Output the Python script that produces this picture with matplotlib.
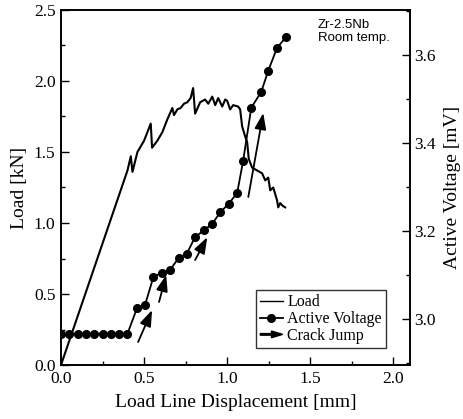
import matplotlib
matplotlib.use("Agg")
import matplotlib.pyplot as plt
from matplotlib.lines import Line2D
from matplotlib.patches import FancyArrow
from matplotlib.legend_handler import HandlerPatch
from matplotlib.ticker import MultipleLocator

# ---- data ----
load_x = [0.0, 0.40, 0.42, 0.43, 0.46, 0.50, 0.54, 0.548, 0.58, 0.61, 0.64, 0.67, 0.68,
          0.70, 0.72, 0.74, 0.76, 0.78, 0.795, 0.807, 0.837, 0.867, 0.886, 0.91, 0.928,
          0.946, 0.97, 0.988, 1.00, 1.018, 1.036, 1.066, 1.078, 1.09, 1.108, 1.12, 1.13,
          1.15, 1.18, 1.21, 1.229, 1.247, 1.259, 1.277, 1.30, 1.307, 1.319, 1.335, 1.349]
load_y = [0.0, 1.37, 1.47, 1.36, 1.50, 1.58, 1.70, 1.53, 1.58, 1.64, 1.73, 1.81, 1.76,
          1.80, 1.81, 1.84, 1.85, 1.88, 1.95, 1.77, 1.85, 1.87, 1.84, 1.89, 1.83,
          1.88, 1.82, 1.87, 1.86, 1.80, 1.83, 1.82, 1.80, 1.68, 1.61, 1.57, 1.45,
          1.39, 1.37, 1.35, 1.30, 1.32, 1.23, 1.25, 1.16, 1.11, 1.14, 1.12, 1.11]

volt_x = [0.0, 0.05, 0.10, 0.15, 0.20, 0.25, 0.30, 0.35, 0.40, 0.458, 0.506, 0.556,
          0.606, 0.655, 0.71, 0.757, 0.807, 0.86, 0.91, 0.958, 1.01, 1.06, 1.096,
          1.145, 1.205, 1.247, 1.30, 1.355]
volt_y = [2.966, 2.966, 2.966, 2.966, 2.966, 2.966, 2.966, 2.966, 2.966, 3.025, 3.032,
          3.095, 3.105, 3.111, 3.139, 3.148, 3.186, 3.201, 3.216, 3.242, 3.262, 3.286,
          3.359, 3.48, 3.516, 3.564, 3.616, 3.641]

jump_tail_x = [0.464, 0.59, 0.807, 1.127]
jump_tail_y = [0.162, 0.444, 0.739, 1.183]
jump_head_x = [0.548, 0.633, 0.88, 1.217]
jump_head_y = [0.387, 0.634, 0.90, 1.775]

xticks = [0.0, 0.5, 1.0, 1.5, 2.0]
yticks_left = [0.0, 0.5, 1.0, 1.5, 2.0, 2.5]
yticks_right = [3.0, 3.2, 3.4, 3.6]

serif = ["Liberation Serif", "DejaVu Serif"]
plt.rcParams["font.family"] = serif

fig = plt.figure(figsize=(4.63, 4.19), dpi=100)
ax = fig.add_axes([61 / 463, 1 - 365 / 419, 349 / 463, 355 / 419])
ax2 = ax.twinx()

ax.plot(load_x, load_y, color="black", lw=1.5)
ax2.plot(volt_x, volt_y, color="black", lw=1.3, marker="o", ms=5.5)

for tx, ty, hx, hy in zip(jump_tail_x, jump_tail_y, jump_head_x, jump_head_y):
    ax.annotate("", xy=(hx, hy), xytext=(tx, ty),
                arrowprops=dict(arrowstyle="-|>,head_length=0.7,head_width=0.25",
                                lw=1.3, color="black", shrinkA=0, shrinkB=0,
                                mutation_scale=14))

ax.set_xlim(0, 2.1)
ax.set_ylim(0, 2.5)
ax2.set_ylim(2.895, 3.702)

ax.set_xticks(xticks)
ax.set_xticklabels([f"{v:.1f}" for v in xticks])
ax.set_yticks(yticks_left)
ax.set_yticklabels([f"{v:.1f}" for v in yticks_left])
ax2.set_yticks(yticks_right)
ax2.set_yticklabels([f"{v:.1f}" for v in yticks_right])
ax.xaxis.set_minor_locator(MultipleLocator(0.25))
ax.yaxis.set_minor_locator(MultipleLocator(0.25))
ax2.yaxis.set_minor_locator(MultipleLocator(0.1))

ax.tick_params(which="both", direction="in", top=False, right=False, labelsize=12.5, width=1)
ax.tick_params(axis="x", which="both", pad=4)
ax.tick_params(axis="y", which="both", pad=4)
ax.tick_params(which="major", length=6)
ax.tick_params(which="minor", length=3)
ax2.tick_params(which="both", direction="in", labelsize=12.5, width=1, pad=3)
ax2.tick_params(which="major", length=6)
ax2.tick_params(which="minor", length=3)

for a in (ax, ax2):
    for s in a.spines.values():
        s.set_linewidth(1.2)

ax.set_xlabel("Load Line Displacement [mm]", fontsize=14, labelpad=5)
ax.set_ylabel("Load [kN]", fontsize=14)
ax2.set_ylabel("Active Voltage [mV]", fontsize=14, rotation=90, labelpad=6)

ax.text(0.735, 0.975, "Zr-2.5Nb\nRoom temp.", transform=ax.transAxes,
        ha="left", va="top", fontsize=9.5, family=["Liberation Sans", "DejaVu Sans"],
        linespacing=1.15)


def make_arrow(legend, orig_handle, xdescent, ydescent, width, height, fontsize):
    return FancyArrow(-xdescent, height / 2 - ydescent, width, 0,
                      width=height * 0.14, head_width=height * 0.6,
                      head_length=width * 0.5, length_includes_head=True,
                      color="black")


h_load = Line2D([], [], color="black", lw=1.0)
h_volt = Line2D([], [], color="black", lw=1.3, marker="o", ms=5.5)
h_jump = FancyArrow(0, 0, 1, 0, color="black")
leg = ax2.legend([h_load, h_volt, h_jump], ["Load", "Active Voltage", "Crack Jump"],
                 loc="lower right", bbox_to_anchor=(0.931, 0.048), borderaxespad=0,
                 fontsize=11.5, frameon=True, fancybox=False, handlelength=1.4,
                 handletextpad=0.3, labelspacing=0.05, borderpad=0.25,
                 handler_map={FancyArrow: HandlerPatch(patch_func=make_arrow)})
leg.get_frame().set_edgecolor("black")
leg.get_frame().set_linewidth(1.0)

fig.savefig("out.png", dpi=100)
